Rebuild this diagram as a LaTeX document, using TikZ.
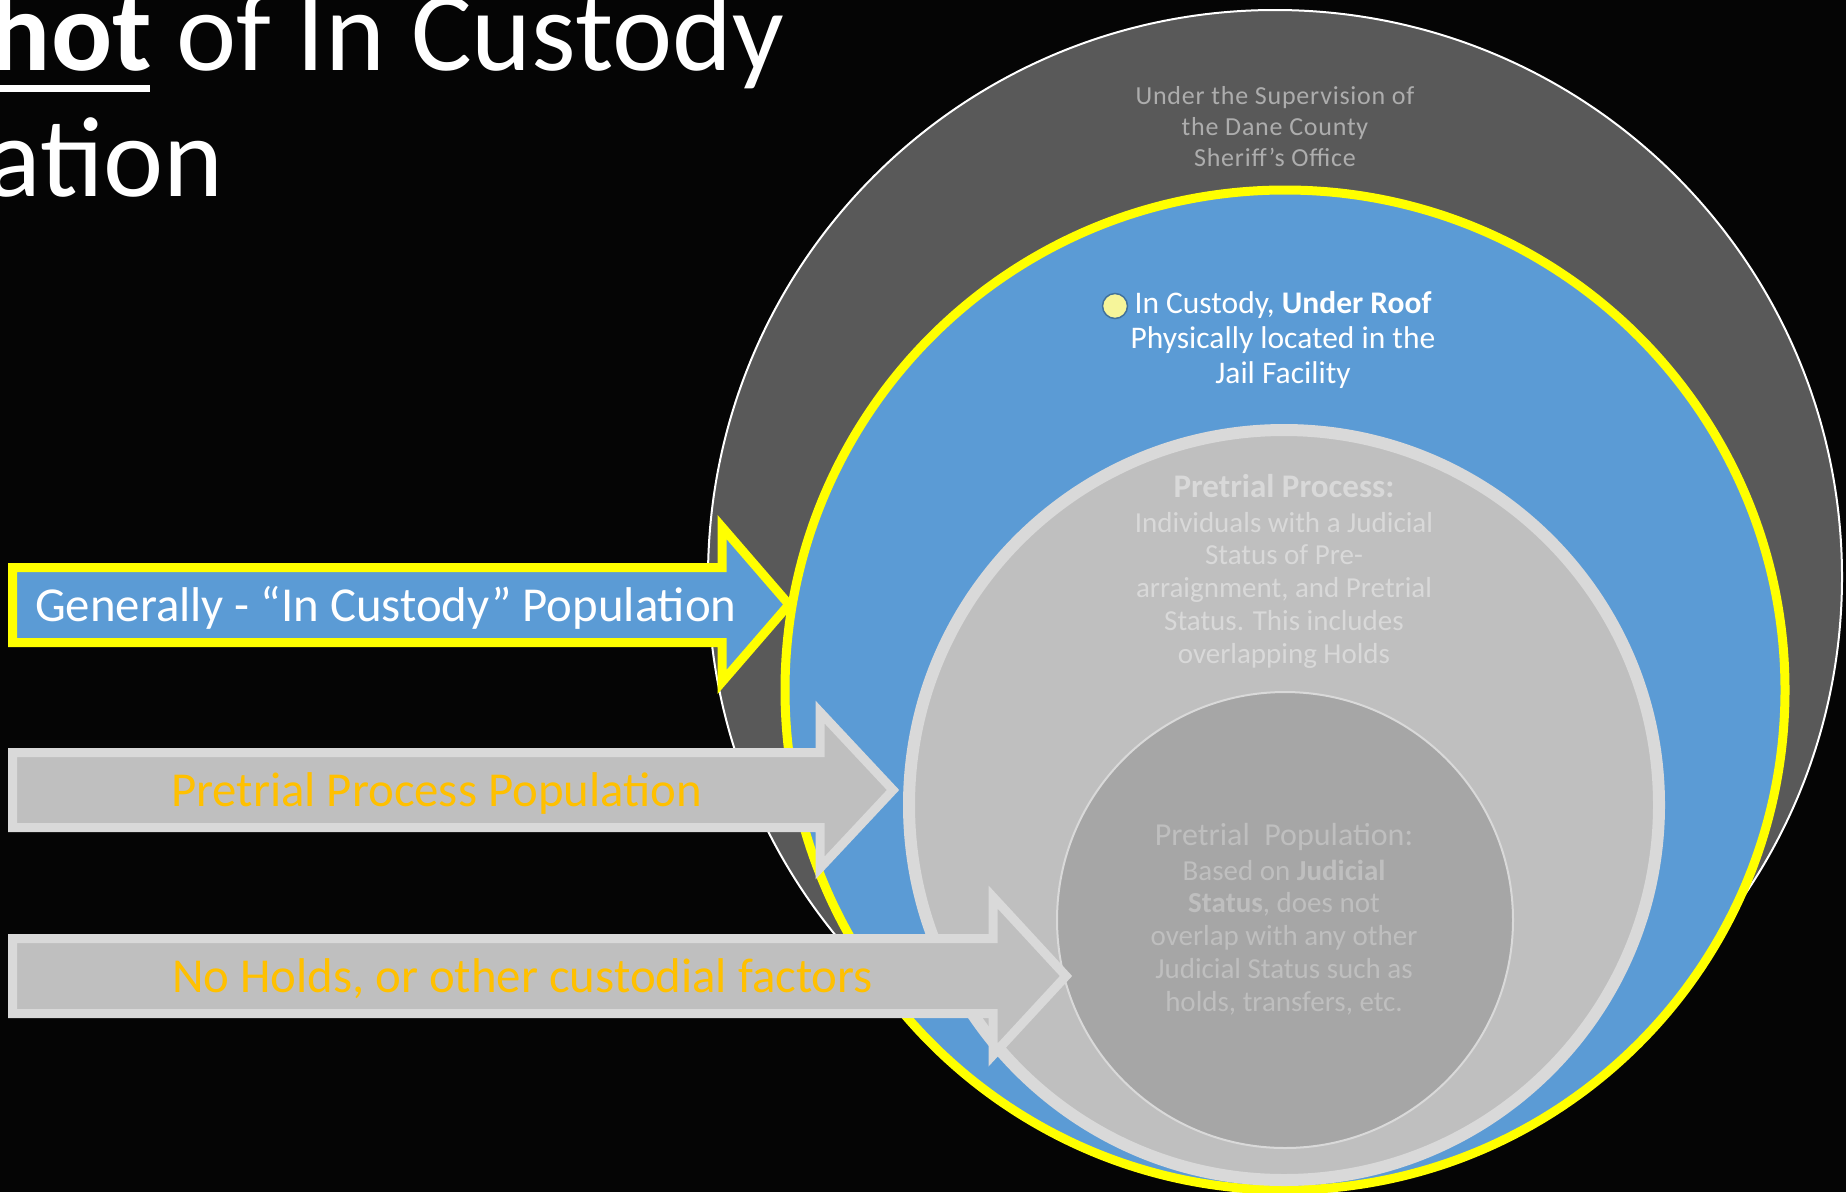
\documentclass[tikz,border=0pt]{standalone}
\usepackage{fontspec}
\setmainfont{Carlito}
\newfontfamily\spacedfont[LetterSpace=3]{Carlito}
\definecolor{bgblack}{HTML}{050505}
\definecolor{darkgrayc}{HTML}{595959}
\definecolor{bluec}{HTML}{5B9BD5}
\definecolor{yellowc}{HTML}{FFFF00}
\definecolor{lgrayc}{HTML}{BFBFBF}
\definecolor{lborder}{HTML}{D9D9D9}
\definecolor{innerc}{HTML}{A6A6A6}
\definecolor{orangec}{HTML}{FFC000}
\definecolor{outertext}{HTML}{ADADAD}
\definecolor{bulletfill}{HTML}{F6F59A}
\definecolor{bulletdraw}{HTML}{41719C}
\tikzset{
  txt/.style={inner sep=0pt, outer sep=0pt, anchor=base},
  arrowblue/.style={fill=bluec, draw=yellowc, line width=9pt, line join=miter, miter limit=10},
  arrowgray/.style={fill=lgrayc, draw=lborder, line width=9pt, line join=miter, miter limit=10},
  arrowtext/.style={inner sep=0pt, outer sep=0pt, anchor=base west, font=\fontsize{48.8}{56}\selectfont},
  outerline/.style={txt, text=outertext, font=\spacedfont\fontsize{26}{31}\selectfont},
  blueline/.style={txt, text=white, font=\fontsize{31.5}{35}\selectfont},
  lgline/.style={txt, text=lborder, font=\fontsize{29}{33}\selectfont},
  inline/.style={txt, text=lgrayc, font=\fontsize{29}{33}\selectfont},
}
\begin{document}
\begin{tikzpicture}[x=1pt,y=-1pt]
\useasboundingbox (0,0) rectangle (1846,1192);
\clip (0,0) rectangle (1846,1192);
\fill[bgblack] (0,0) rectangle (1846,1192);

% title
\node[inner sep=0pt, anchor=base east, text=white, font=\fontsize{114}{120}\selectfont\bfseries] (tA) at (152,70) {hot};
\fill[white] (0,85) rectangle (150,92);
\node[inner sep=0pt, anchor=base west, text=white, font=\fontsize{114}{120}\selectfont] (tB) at (176,70) {of In Custody};
\node[inner sep=0pt, anchor=base east, text=white, font=\fontsize{114}{120}\selectfont] (tC) at (224,196) {ation};

% circles
\filldraw[fill=darkgrayc, draw=white, line width=2pt] (1275,577) circle[radius=567];
\filldraw[fill=bluec, draw=yellowc, line width=9pt] (1285,690) circle[radius=500];
\filldraw[fill=lgrayc, draw=lborder, line width=12pt] (1284,805) circle[radius=375];
\filldraw[fill=innerc, draw=lborder, line width=2pt] (1285,920) circle[radius=228];

% outer text
\node[outerline] (o1) at (1275,104) {Under the Supervision of};
\node[outerline] (o2) at (1275,135) {the Dane County};
\node[outerline] (o3) at (1275,166) {Sheriff’s Office};

% blue text
\filldraw[fill=bulletfill, draw=bulletdraw, line width=1.5pt] (1115,306) circle[radius=12.5];
\node[blueline] (b1) at (1283,313) {In Custody, \textbf{Under Roof}};
\node[blueline] (b2) at (1283,348) {Physically located in the};
\node[blueline] (b3) at (1283,383) {Jail Facility};

% light gray text
\node[lgline, font=\fontsize{33}{36}\selectfont\bfseries] (g1) at (1284,497) {Pretrial Process:};
\node[lgline] (g2) at (1284,532) {Individuals with a Judicial};
\node[lgline] (g3) at (1284,564) {Status of Pre-};
\node[lgline] (g4) at (1284,597) {arraignment, and Pretrial};
\node[lgline] (g5) at (1284,630) {Status. This includes};
\node[lgline] (g6) at (1284,663) {overlapping Holds};

% inner text
\node[inline, font=\fontsize{32}{36}\selectfont] (i1) at (1284,845) {Pretrial\ \ Population:};
\node[inline] (i2) at (1284,880) {Based on \textbf{Judicial}};
\node[inline] (i3) at (1284,912) {\textbf{Status}, does not};
\node[inline] (i4) at (1284,945) {overlap with any other};
\node[inline] (i5) at (1284,978) {Judicial Status such as};
\node[inline] (i6) at (1284,1011) {holds,\ transfers, etc.};

% arrows
\draw[arrowblue] (12.5,567.5) -- (722,567.5) -- (722,527) -- (789,604.5) -- (722,682) -- (722,642.5) -- (12.5,642.5) -- cycle;
\node[arrowtext, text=white] (a1) at (35,621) {Generally - “In Custody” Population};

\draw[arrowgray] (12.5,752.5) -- (820,752.5) -- (820,712) -- (893,790) -- (820,868) -- (820,827.5) -- (12.5,827.5) -- cycle;
\node[arrowtext, text=orangec] (a2) at (171,806) {Pretrial Process Population};

\draw[arrowgray] (12.5,938.5) -- (993,938.5) -- (993,897) -- (1066,976) -- (993,1055) -- (993,1013.5) -- (12.5,1013.5) -- cycle;
\node[arrowtext, text=orangec] (a3) at (172,992) {No Holds, or other custodial factors};
\end{tikzpicture}
\end{document}
